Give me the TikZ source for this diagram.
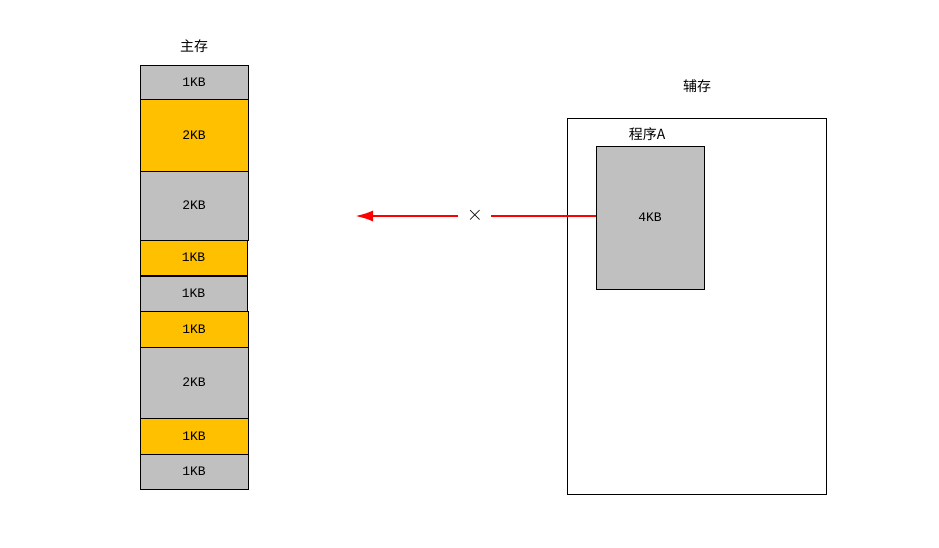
\documentclass[tikz,border=0pt]{standalone}
\usepackage{fontspec}
\usetikzlibrary{arrows.meta}
\setmainfont{Liberation Mono}
\newfontfamily\cjk{Noto Sans CJK SC}
\definecolor{og}{HTML}{FFC000}
\definecolor{gy}{HTML}{C0C0C0}
\begin{document}
\begin{tikzpicture}[x=1pt,y=-1pt,
  blk/.style={draw=black,line width=0.6pt,minimum width=108pt,inner sep=0pt,font=\fontsize{13}{13}\selectfont},
  lbl/.style={font=\cjk\fontsize{14}{14}\selectfont,inner sep=0pt}]
\useasboundingbox (0,0) rectangle (939,547);
\node[blk,fill=gy,minimum height=34pt] (b1) at (194,82) {1KB};
\node[blk,fill=og,minimum height=72pt] (b2) at (194,135) {2KB};
\node[blk,fill=gy,minimum height=69pt] (b3) at (194,205.5) {2KB};
\node[blk,fill=og,minimum height=35pt,minimum width=107pt] (b4) at (193.5,257.5) {1KB};
\node[blk,fill=gy,minimum height=35pt,minimum width=107pt] (b5) at (193.5,293.5) {1KB};
\node[blk,fill=og,minimum height=36pt] (b6) at (194,329) {1KB};
\node[blk,fill=gy,minimum height=71pt] (b7) at (194,382.5) {2KB};
\node[blk,fill=og,minimum height=36pt] (b8) at (194,436) {1KB};
\node[blk,fill=gy,minimum height=35pt] (b9) at (194,471.5) {1KB};
\node[lbl] (zc) at (194,46) {主存};
\node[lbl] (fc) at (697,86) {辅存};
\node[draw=black,line width=0.6pt,minimum width=259pt,minimum height=376pt,inner sep=0pt] (disk) at (696.5,306) {};
\node[blk,fill=gy,minimum height=143pt] (prog) at (650,217.5) {4KB};
\node[lbl] (pl) at (647,134) {程序A};
\node[font=\fontsize{22}{22}\selectfont,inner sep=0pt] (x) at (475,215) {$\times$};
\coordinate (a1) at (491,216);
\coordinate (a2) at (458,216);
\coordinate (tip) at (355,216);
\draw[red,line width=2.5pt] (prog.west |- a1) -- (a1);
\draw[red,line width=2.5pt,-{Latex[length=18pt,width=11pt]}] (a2) -- (tip);
\end{tikzpicture}
\end{document}
